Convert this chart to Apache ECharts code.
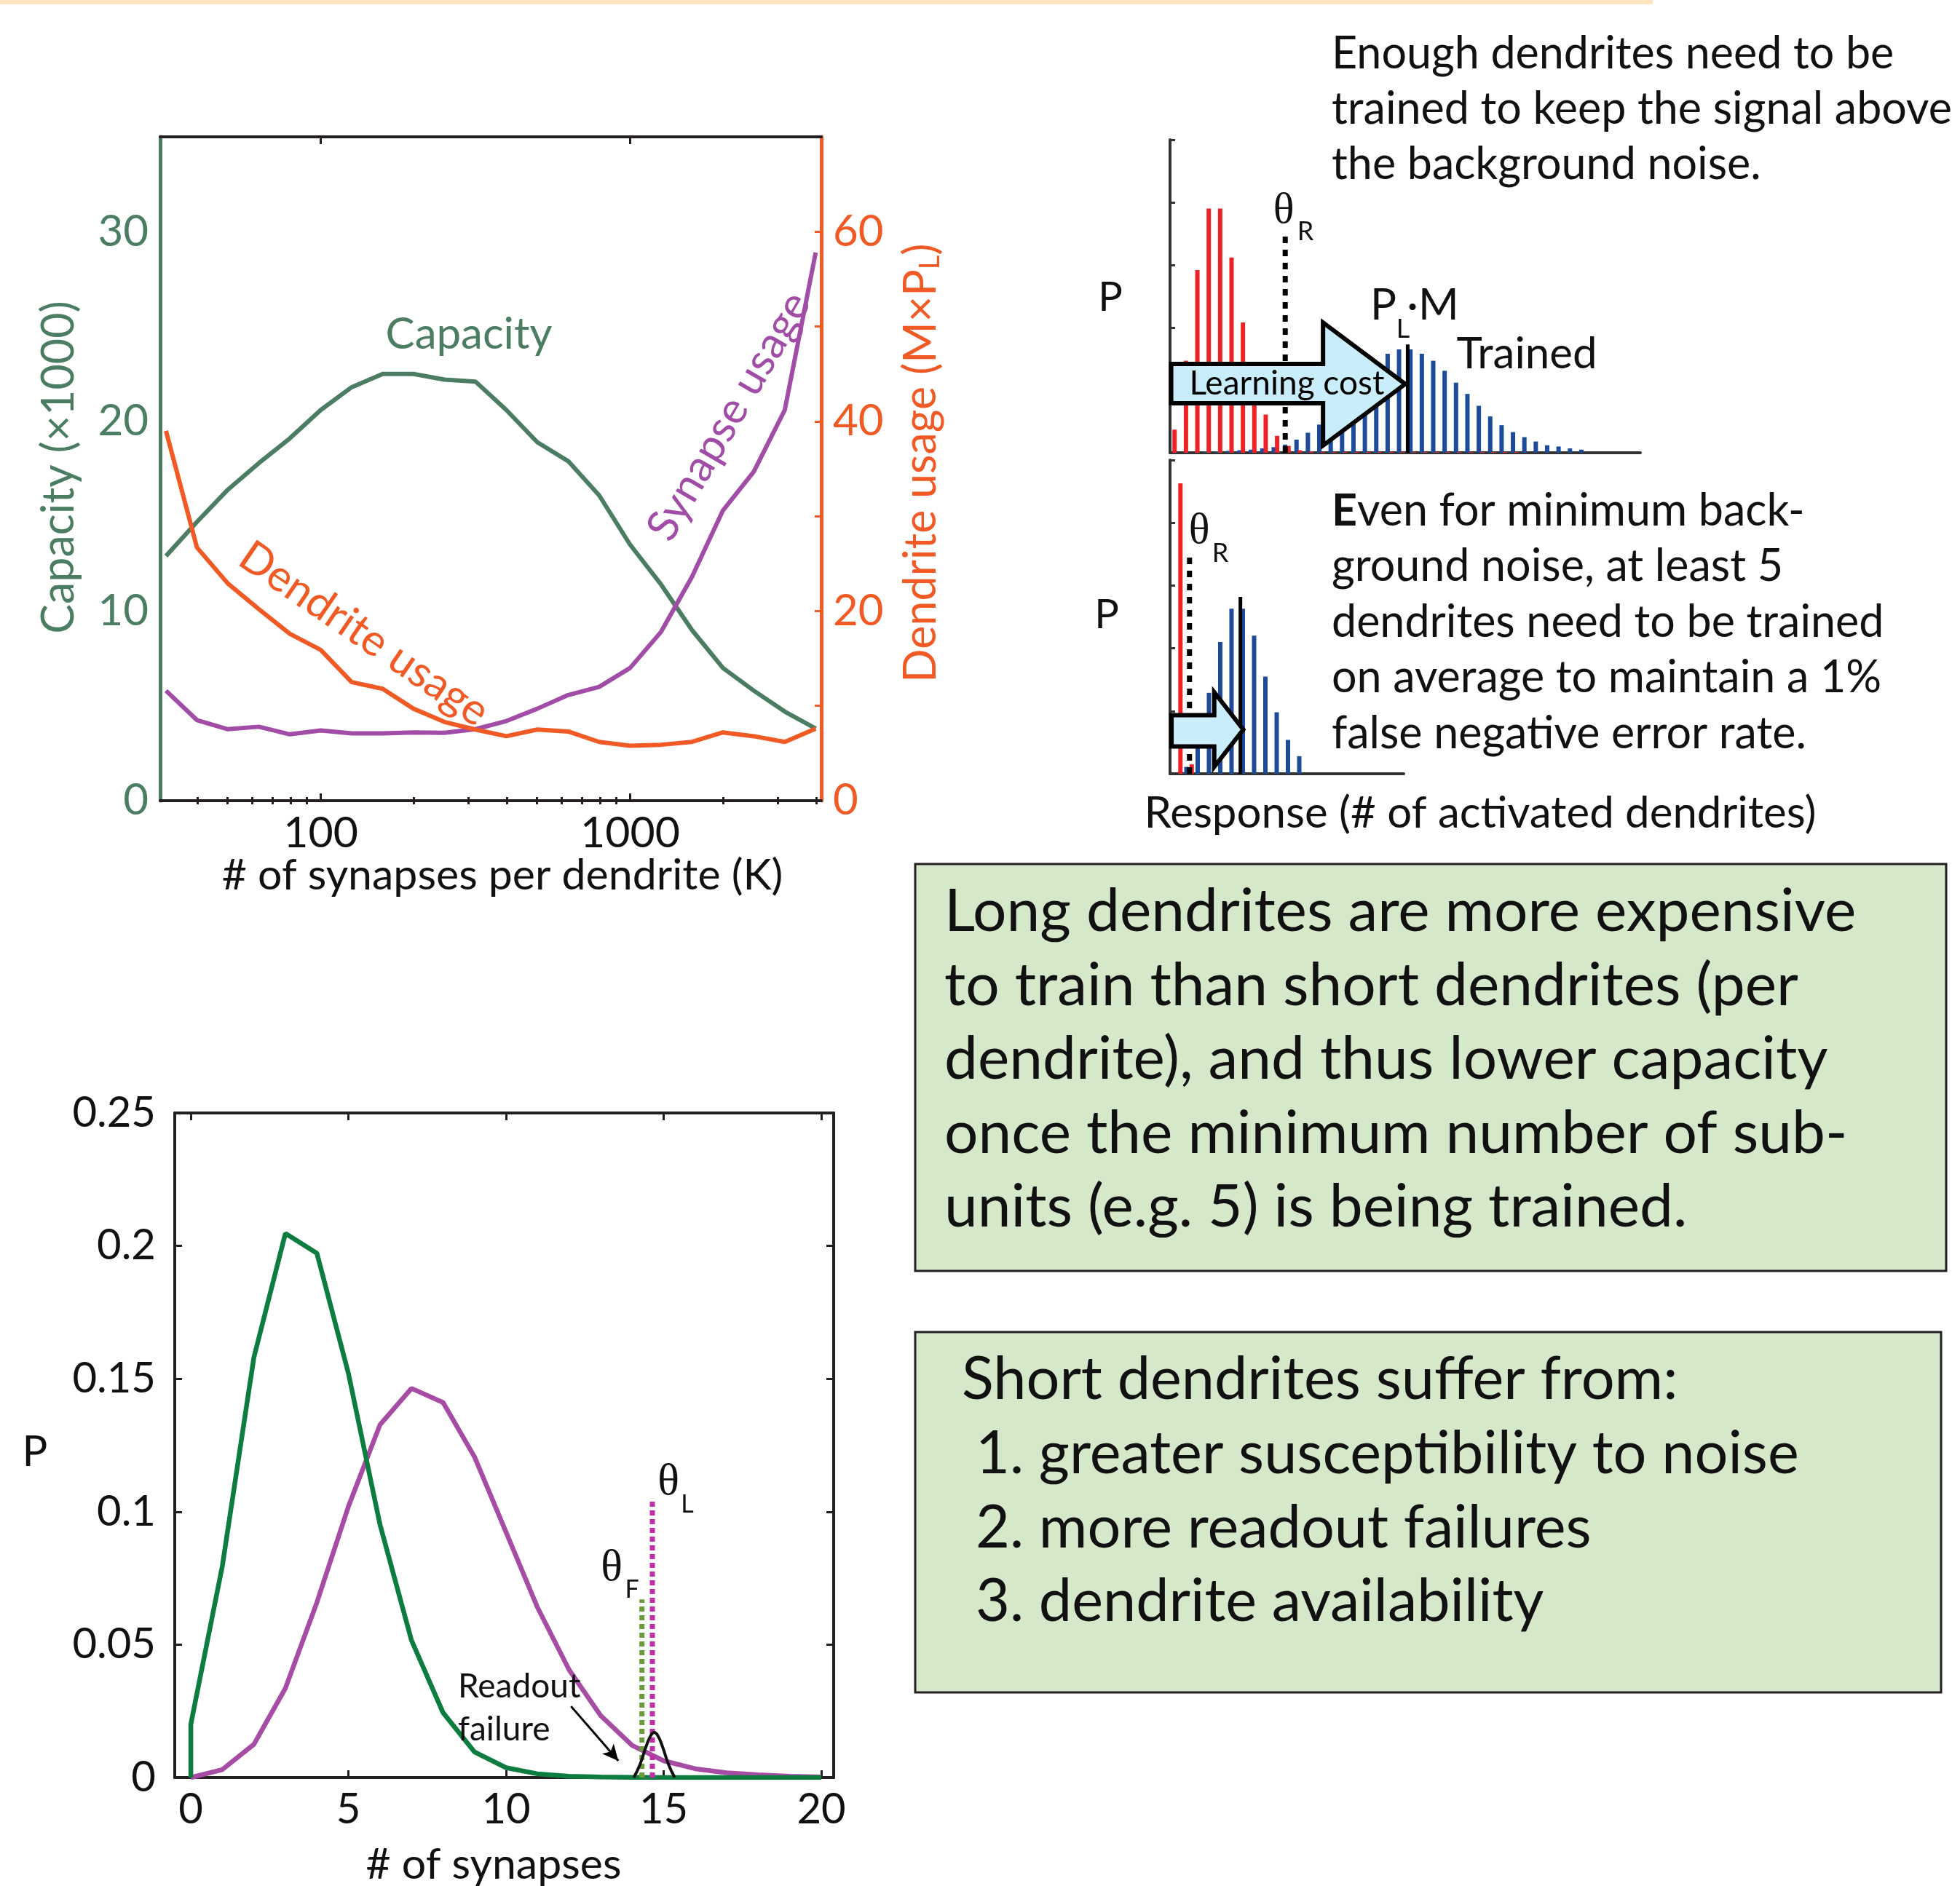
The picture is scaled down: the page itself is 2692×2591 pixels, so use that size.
<!DOCTYPE html>
<html>
<head>
<meta charset="utf-8">
<script src="https://cdn.jsdelivr.net/npm/echarts@6/dist/echarts.min.js"></script>
<style>
  html, body { margin: 0; padding: 0; background: #fff; }
  #chart { width: 2692px; height: 2591px; }
</style>
</head>
<body>
<div id="chart"></div>
<script>
// ---- panel A: capacity vs. dendrite length (log x) ----
const synapsesK = [31.6, 39.8, 50.1, 63.1, 79.4, 100, 125.9, 158.5, 199.5, 251.2, 316.2,
  398.1, 501.2, 631.0, 794.3, 1000, 1258.9, 1584.9, 1995.3, 2511.9, 3162.3, 3981.1];
const capacity = [12.9, 14.7, 16.4, 17.8, 19.1, 20.6, 21.8, 22.5, 22.5, 22.2, 22.1,
  20.6, 18.9, 17.9, 16.1, 13.5, 11.4, 9.0, 7.0, 5.8, 4.7, 3.8];
const dendriteUsage = [39.0, 26.7, 22.9, 20.2, 17.6, 15.9, 12.5, 11.8, 9.7, 8.3, 7.5,
  6.8, 7.5, 7.3, 6.2, 5.8, 5.9, 6.2, 7.2, 6.8, 6.2, 7.6];
const synapseUsage = [5.8, 4.25, 3.77, 3.9, 3.5, 3.7, 3.55, 3.55, 3.6, 3.58, 3.77,
  4.2, 4.85, 5.57, 6.0, 7.0, 8.9, 11.8, 15.3, 17.35, 20.6, 28.9];
const kMajorTicks = [100, 1000];
const kMinorTicks = [40, 50, 60, 70, 80, 90, 200, 300, 400, 500, 600, 700, 800, 900, 2000, 3000, 4000];

// ---- response histograms (schematic) ----
const noiseTop = [0.37, 1.47, 2.92, 3.90, 3.90, 3.12, 2.08, 1.30, 0.61, 0.27, 0.11, 0.04, 0.02,
  0.012, 0.012, 0.012, 0.012, 0.012, 0.012, 0.012, 0.012, 0.012, 0.012, 0.012, 0.012, 0.012,
  0.012, 0.012, 0.012, 0.012, 0.012];
const trainedTop = [0, 0, 0, 0.02, 0.02, 0.03, 0.04, 0.05, 0.07, 0.09, 0.13, 0.21, 0.32, 0.45,
  0.60, 0.73, 0.92, 1.12, 1.33, 1.58, 1.65, 1.65, 1.58, 1.47, 1.31, 1.12, 0.94, 0.75, 0.58,
  0.44, 0.33, 0.25, 0.18, 0.12, 0.10, 0.07, 0.05];
const noiseBottom = [4.63, 0.15];
const trainedBottom = [0, 0.11, 0.60, 1.29, 2.10, 2.63, 2.63, 2.20, 1.55, 0.98, 0.54, 0.28];
const thetaRTop = [9.86, 3.48];      // x, height
const plmTop = [20.61, 1.73];
const thetaRBottom = [1.04, 3.45];
const plmBottom = [5.55, 2.82];

// ---- panel C: synapse count distributions ----
const synCount = [0, 1, 2, 3, 4, 5, 6, 7, 8, 9, 10, 11, 12, 13, 14, 15, 16, 17, 18, 19, 20];
const pNoise = [0.02, 0.0796, 0.158, 0.2047, 0.1972, 0.152, 0.0952, 0.0516, 0.0244, 0.0096,
  0.0037, 0.0014, 0.0005, 0.0002, 0.0001, 0, 0, 0, 0, 0, 0];
const pLearned = [0, 0.003, 0.0125, 0.0336, 0.0659, 0.102, 0.1327, 0.1464, 0.1411, 0.1206,
  0.0923, 0.0639, 0.0405, 0.0233, 0.0121, 0.0063, 0.0033, 0.0018, 0.001, 0.0005, 0.0002];
const readoutX = [14.05, 14.25, 14.45, 14.6, 14.7, 14.8, 14.95, 15.15, 15.35];
const readoutY = [0, 0.005, 0.012, 0.016, 0.017, 0.016, 0.012, 0.005, 0];
const thetaF = [14.31, 0.067];
const thetaL = [14.64, 0.104];

const FONT = 'Lato, "Open Sans", sans-serif';
const SERIF = '"Liberation Serif", "DejaVu Serif", serif';
const GREEN_A = '#4b7d63', ORANGE = '#f15a24', PURPLE_A = '#a14ca6';
const GREEN_C = '#0d7c3f', PURPLE_C = '#a64ca4';
const RED = '#ec2227', BLUE = '#1c4b9b', AXIS = '#231f20';

function label(x, y, text, size, extra) {
  const e = extra || {};
  const rotation = e.rotation || 0;
  delete e.rotation;
  return {
    type: 'text', x, y, rotation, silent: true, z: 10,
    style: Object.assign({ text, fontSize: size, fontFamily: FONT, fill: '#111',
      align: 'center', verticalAlign: 'middle' }, e)
  };
}

function vLine(xi, yi, pt, color, width, dash) {
  return {
    type: 'line', xAxisIndex: xi, yAxisIndex: yi, symbol: 'none', z: 4,
    data: [[pt[0], 0], [pt[0], pt[1]]],
    lineStyle: { color, width, type: dash || 'solid', cap: 'butt' }
  };
}

function arrowSeries(xi, yi, geom, text, textAt, size) {
  return {
    type: 'custom', xAxisIndex: xi, yAxisIndex: yi, z: 6,
    data: [geom],
    renderItem: (params, api) => {
      const v = i => api.value(i);
      const mid = (v(5) + v(6)) / 2;
      const pts = [[v(0), v(3)], [v(1), v(3)], [v(1), v(5)], [v(2), mid], [v(1), v(6)], [v(1), v(4)], [v(0), v(4)]]
        .map(p => api.coord(p));
      const children = [{ type: 'polygon', shape: { points: pts },
        style: { fill: '#c9edfa', stroke: '#000', lineWidth: 6, lineJoin: 'miter' } }];
      if (text) {
        const c = api.coord(textAt);
        children.push({ type: 'text', x: c[0], y: c[1],
          style: { text, fontSize: size, fontFamily: FONT, fill: '#000', align: 'center', verticalAlign: 'middle' } });
      }
      return { type: 'group', children };
    }
  };
}

const noLine = { show: false };
const log = Math.log10;

const option = {
  animation: false,
  backgroundColor: '#fff',
  grid: [
    { left: 220, top: 188, width: 908, height: 912, outerBoundsMode: 'none' },
    { left: 1607, top: 192, width: 646, height: 430, outerBoundsMode: 'none' },
    { left: 1607, top: 632, width: 321, height: 431, outerBoundsMode: 'none' },
    { left: 240, top: 1529, width: 905, height: 913, outerBoundsMode: 'none' }
  ],
  xAxis: [
    { gridIndex: 0, type: 'value', min: 1.481, max: 3.618, position: 'bottom',
      axisLine: { onZero: false, lineStyle: { color: AXIS, width: 4 } },
      axisTick: { inside: true, length: 10, customValues: kMajorTicks.map(log), lineStyle: { color: AXIS, width: 3 } },
      axisLabel: { customValues: kMajorTicks.map(log), formatter: v => String(Math.round(Math.pow(10, v))),
        fontSize: 59, fontFamily: FONT, color: '#111', margin: 15 },
      splitLine: noLine },
    { gridIndex: 0, type: 'value', min: 1.481, max: 3.618, position: 'bottom',
      axisLine: noLine,
      axisTick: { inside: true, length: 5, customValues: kMinorTicks.map(log), lineStyle: { color: AXIS, width: 3 } },
      axisLabel: noLine, splitLine: noLine },
    { gridIndex: 0, type: 'value', min: 1.481, max: 3.618, position: 'top',
      axisLine: { onZero: false, lineStyle: { color: AXIS, width: 4 } },
      axisTick: { inside: true, length: 10, customValues: kMajorTicks.map(log), lineStyle: { color: AXIS, width: 3 } },
      axisLabel: noLine, splitLine: noLine },
    { gridIndex: 0, type: 'value', min: 1.481, max: 3.618, position: 'top',
      axisLine: noLine,
      axisTick: { inside: true, length: 5, customValues: kMinorTicks.map(log), lineStyle: { color: AXIS, width: 3 } },
      axisLabel: noLine, splitLine: noLine },
    { gridIndex: 1, type: 'value', min: -0.25, max: 41.03,
      axisLine: { onZero: false, lineStyle: { color: '#333', width: 4 } },
      axisTick: noLine, axisLabel: noLine, splitLine: noLine },
    { gridIndex: 2, type: 'value', min: -0.685, max: 20.02,
      axisLine: { onZero: false, lineStyle: { color: '#333', width: 4 } },
      axisTick: noLine, axisLabel: noLine, splitLine: noLine },
    { gridIndex: 3, type: 'value', min: -0.51, max: 20.39, position: 'bottom',
      axisLine: { onZero: false, lineStyle: { color: AXIS, width: 4 } },
      axisTick: { inside: true, length: 10, customValues: [0, 5, 10, 15, 20], lineStyle: { color: AXIS, width: 3 } },
      axisLabel: { customValues: [0, 5, 10, 15, 20], fontSize: 58, fontFamily: FONT, color: '#111', margin: 15 },
      splitLine: noLine },
    { gridIndex: 3, type: 'value', min: -0.51, max: 20.39, position: 'top',
      axisLine: { onZero: false, lineStyle: { color: AXIS, width: 4 } },
      axisTick: { inside: true, length: 10, customValues: [0, 5, 10, 15, 20], lineStyle: { color: AXIS, width: 3 } },
      axisLabel: noLine, splitLine: noLine }
  ],
  yAxis: [
    { gridIndex: 0, type: 'value', min: 0, max: 35, position: 'left',
      axisLine: { show: true, onZero: false, lineStyle: { color: GREEN_A, width: 5 } },
      axisTick: noLine,
      axisLabel: { customValues: [0, 10, 20, 30], fontSize: 60, fontFamily: FONT, color: GREEN_A, margin: 16 },
      splitLine: noLine },
    { gridIndex: 0, type: 'value', min: 0, max: 70, position: 'right',
      axisLine: { show: true, onZero: false, lineStyle: { color: ORANGE, width: 5 } },
      axisTick: { inside: true, length: 9, customValues: [10, 20, 30, 40, 50, 60], lineStyle: { color: ORANGE, width: 3 } },
      axisLabel: { customValues: [0, 20, 40, 60], fontSize: 60, fontFamily: FONT, color: ORANGE, margin: 16 },
      splitLine: noLine },
    { gridIndex: 1, type: 'value', min: 0, max: 5,
      axisLine: { show: true, onZero: false, lineStyle: { color: '#333', width: 4 } },
      axisTick: { inside: true, length: 7, customValues: [1, 2, 3, 4, 5], lineStyle: { color: '#333', width: 3 } },
      axisLabel: noLine, splitLine: noLine },
    { gridIndex: 2, type: 'value', min: 0, max: 5,
      axisLine: { show: true, onZero: false, lineStyle: { color: '#333', width: 4 } },
      axisTick: { inside: true, length: 7, customValues: [1, 2, 3, 4, 5], lineStyle: { color: '#333', width: 3 } },
      axisLabel: noLine, splitLine: noLine },
    { gridIndex: 3, type: 'value', min: 0, max: 0.25, interval: 0.05, position: 'left',
      axisLine: { show: true, onZero: false, lineStyle: { color: AXIS, width: 4 } },
      axisTick: { inside: true, length: 10, lineStyle: { color: AXIS, width: 3 } },
      axisLabel: { fontSize: 58, fontFamily: FONT, color: '#111', margin: 26 },
      splitLine: noLine },
    { gridIndex: 3, type: 'value', min: 0, max: 0.25, interval: 0.05, position: 'right',
      axisLine: { show: true, onZero: false, lineStyle: { color: AXIS, width: 4 } },
      axisTick: { inside: true, length: 10, lineStyle: { color: AXIS, width: 3 } },
      axisLabel: noLine, splitLine: noLine }
  ],
  series: [
    // panel A
    { name: 'Capacity', type: 'line', xAxisIndex: 0, yAxisIndex: 0, symbol: 'none',
      data: synapsesK.map((k, i) => [log(k), capacity[i]]), lineStyle: { color: GREEN_A, width: 6 } },
    { name: 'Synapse usage', type: 'line', xAxisIndex: 0, yAxisIndex: 0, symbol: 'none',
      data: synapsesK.map((k, i) => [log(k), synapseUsage[i]]), lineStyle: { color: PURPLE_A, width: 6 } },
    { name: 'Dendrite usage', type: 'line', xAxisIndex: 0, yAxisIndex: 1, symbol: 'none',
      data: synapsesK.map((k, i) => [log(k), dendriteUsage[i]]), lineStyle: { color: ORANGE, width: 6 } },

    // top histogram
    { type: 'bar', xAxisIndex: 4, yAxisIndex: 2, barWidth: 6, barGap: '-22%',
      data: trainedTop.map((v, i) => [i, v]), itemStyle: { color: BLUE } },
    { type: 'bar', xAxisIndex: 4, yAxisIndex: 2, barWidth: 6, barGap: '-22%',
      data: noiseTop.map((v, i) => [i, v]), itemStyle: { color: RED } },
    vLine(4, 2, thetaRTop, '#000', 7, [9, 9]),
    vLine(4, 2, plmTop, '#000', 5),
    arrowSeries(4, 2, [-0.15, 13.18, 20.39, 0.79, 1.42, 0.115, 2.08], 'Learning cost', [10.0, 1.1], 46),

    // bottom histogram
    { type: 'bar', xAxisIndex: 5, yAxisIndex: 3, barWidth: 6, barGap: '22%',
      data: trainedBottom.map((v, i) => [i, v]), itemStyle: { color: BLUE } },
    { type: 'bar', xAxisIndex: 5, yAxisIndex: 3, barWidth: 6, barGap: '22%',
      data: noiseBottom.map((v, i) => [i, v]), itemStyle: { color: RED } },
    vLine(5, 3, thetaRBottom, '#000', 7, [9, 9]),
    vLine(5, 3, plmBottom, '#000', 5),
    arrowSeries(5, 3, [-0.55, 3.23, 5.8, 0.435, 0.935, 0.11, 1.3]),

    // panel C
    { type: 'line', xAxisIndex: 6, yAxisIndex: 4, symbol: 'none',
      data: synCount.map((x, i) => [x, pLearned[i]]), lineStyle: { color: PURPLE_C, width: 6.5 } },
    { type: 'line', xAxisIndex: 6, yAxisIndex: 4, symbol: 'none',
      data: [[0, 0]].concat(synCount.map((x, i) => [x, pNoise[i]])), lineStyle: { color: GREEN_C, width: 6.5 } },
    vLine(6, 4, thetaF, '#6a9c3a', 7, [7, 5]),
    vLine(6, 4, thetaL, '#c02fa8', 7, [7, 5]),
    { type: 'line', xAxisIndex: 6, yAxisIndex: 4, symbol: 'none', smooth: true, z: 5,
      data: readoutX.map((x, i) => [x, readoutY[i]]), lineStyle: { color: '#111', width: 4 },
      markLine: { silent: true, symbol: ['none', 'arrow'], symbolSize: [16, 22], label: { show: false },
        lineStyle: { color: '#000', width: 3, type: 'solid' },
        data: [[{ coord: [12.06, 0.0268] }, { coord: [13.56, 0.0063] }]] } }
  ],
  graphic: [
    { type: 'rect', shape: { x: 0, y: 0, width: 2270, height: 6 }, style: { fill: '#ffe6bf' }, silent: true },

    // panel A texts
    label(644, 460, 'Capacity', 60, { fill: GREEN_A }),
    label(81, 642, 'Capacity (×1000)', 61, { fill: GREEN_A, rotation: Math.PI / 2 }),
    label(1265, 636, '{a|Dendrite usage (M×P}{s|L}{a|)}', 61, { fill: ORANGE, rotation: Math.PI / 2,
      rich: { a: { fontSize: 61, fontFamily: FONT, fill: ORANGE, lineHeight: 72, verticalAlign: 'middle' },
              s: { fontSize: 38, fontFamily: FONT, fill: ORANGE, lineHeight: 72, verticalAlign: 'bottom', padding: [0, 0, 4, 0] } } }),
    label(1001, 572, 'Synapse usage', 60, { fill: PURPLE_A, rotation: 1.042 }),
    label(500, 871, 'Dendrite usage', 60, { fill: ORANGE, rotation: -0.600 }),
    label(690, 1203, '# of synapses per dendrite (K)', 59),

    // histogram texts
    label(1829, 36, 'Enough dendrites need to be\ntrained to keep the signal above\nthe background noise.', 61,
      { align: 'left', verticalAlign: 'top', lineHeight: 76 }),
    label(1525, 409, 'P', 56),
    label(1520, 845, 'P', 56),
    label(1763, 290, 'θ', 60, { fontFamily: SERIF }),
    label(1793, 318, 'R', 36),
    label(1647, 730, 'θ', 60, { fontFamily: SERIF }),
    label(1676, 760, 'R', 36),
    label(1900, 420, 'P', 60),
    label(1927, 452, 'L', 36),
    label(1968, 420, '·M', 60),
    label(2097, 487, 'Trained', 60),
    label(1829, 664, '{b|E}{n|ven for minimum back-}\n{n|ground noise, at least 5}\n{n|dendrites need to be trained}\n{n|on average to maintain a 1%}\n{n|false negative error rate.}', 61,
      { align: 'left', verticalAlign: 'top',
        rich: { b: { fontSize: 61, fontFamily: FONT, fontWeight: 'bold', fill: '#111', lineHeight: 76.5 },
                n: { fontSize: 61, fontFamily: FONT, fill: '#111', lineHeight: 76.5 } } }),
    label(2033, 1118, 'Response (# of activated dendrites)', 60),

    // text boxes
    { type: 'rect', shape: { x: 1257, y: 1187, width: 1416, height: 559 },
      style: { fill: '#d5e8c9', stroke: AXIS, lineWidth: 3 }, silent: true },
    label(1297, 1202, 'Long dendrites are more expensive\nto train than short dendrites (per\ndendrite), and thus lower capacity\nonce the minimum number of sub-\nunits (e.g. 5) is being trained.', 82,
      { align: 'left', verticalAlign: 'top', lineHeight: 101.5 }),
    { type: 'rect', shape: { x: 1257, y: 1830, width: 1409, height: 495 },
      style: { fill: '#d5e8c9', stroke: AXIS, lineWidth: 3 }, silent: true },
    label(1321, 1845, 'Short dendrites suffer from:', 81, { align: 'left', verticalAlign: 'top', lineHeight: 101.7 }),
    label(1340, 1947, '1. greater susceptibility to noise\n2. more readout failures\n3. dendrite availability', 81,
      { align: 'left', verticalAlign: 'top', lineHeight: 101.7 }),

    // panel C texts
    label(48, 1995, 'P', 58),
    label(678, 2562, '# of synapses', 59),
    label(840, 2155, 'θ', 62, { fontFamily: SERIF }),
    label(868, 2184, 'F', 34),
    label(918, 2037, 'θ', 62, { fontFamily: SERIF }),
    label(944, 2067, 'L', 34),
    label(629, 2317, 'Readout', 46, { align: 'left' }),
    label(629, 2376, 'failure', 46, { align: 'left' })
  ]
};

const chart = echarts.init(document.getElementById('chart'), null, { renderer: 'canvas' });
chart.setOption(option);
</script>
</body>
</html>
